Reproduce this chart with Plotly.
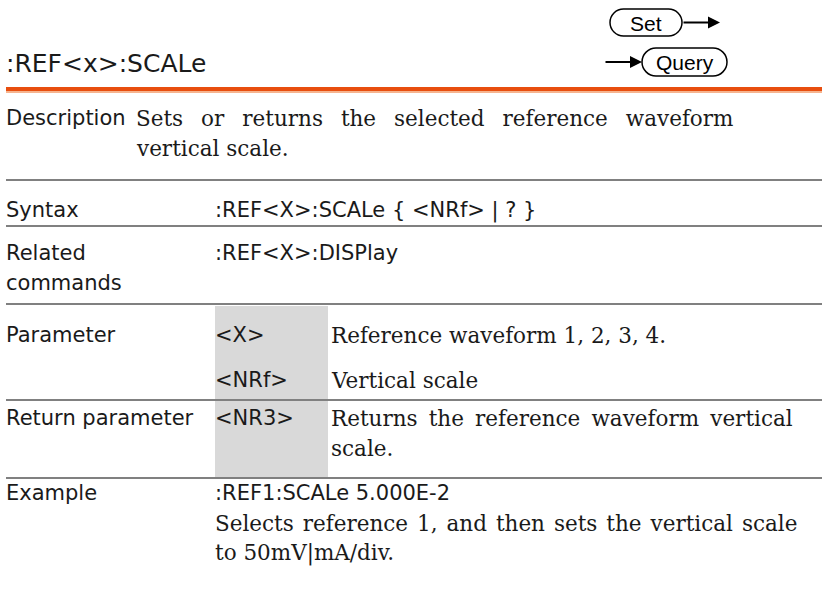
import plotly.graph_objects as go

W, H = 822, 598

title = ":REF<x>:SCALe"
set_label = "Set"
query_label = "Query"

row_labels = [["Description"], ["Syntax"], ["Related", "commands"],
              ["Parameter"], ["Return parameter"], ["Example"]]
row_label_y = [118, 210, 253, 335, 418, 493]

desc_lines = ["Sets or returns the selected reference waveform", "vertical scale."]
syntax_text = ":REF<X>:SCALe { <NRf> | ? }"
related_text = ":REF<X>:DISPlay"
param_names = ["<X>", "<NRf>", "<NR3>"]
param_desc = [["Reference waveform 1, 2, 3, 4."], ["Vertical scale"],
              ["Returns the reference waveform vertical", "scale."]]
param_y = [335, 380, 418]
example_cmd = ":REF1:SCALe 5.000E-2"
example_desc = ["Selects reference 1, and then sets the vertical scale",
                "to 50mV|mA/div."]

divider_y = [180, 226, 304, 400, 478]

SANS = "DejaVu Sans"
SERIF = "DejaVu Serif"
SANS_SIZE = 21
SERIF_SIZE = 21.5
LH = 30

# extra inter-word spacing to imitate justified first lines of wrapped paragraphs
NB, THIN, HAIR = "\u00a0", "\u2009", "\u200a"
JUSTIFY = {
    desc_lines[0]: NB + THIN,
    param_desc[2][0]: THIN,
    example_desc[0]: HAIR,
}

fig = go.Figure()
fig.add_trace(go.Scatter(x=[0, W], y=[0, H], mode="markers",
                         marker=dict(opacity=0), hoverinfo="skip", showlegend=False))

ann = []
shapes = []

def esc(s):
    return s.replace("<", "&lt;").replace(">", "&gt;")

def txt(x, y, s, font=SANS, size=SANS_SIZE):
    extra = JUSTIFY.get(s)
    if extra:
        s = (" " + extra).join(s.split(" "))
    ann.append(dict(x=x, y=y, xref="x", yref="y", text=esc(s), showarrow=False,
                    xanchor="left", yanchor="middle",
                    font=dict(family=font, size=size, color="#1a1a1a")))

def pill(x0, x1, y0, y1):
    r = (y1 - y0) / 2
    k = 0.55 * r
    ym = (y0 + y1) / 2
    p = (f"M {x0 + r},{y0} L {x1 - r},{y0} "
         f"C {x1 - r + k},{y0} {x1},{ym - k} {x1},{ym} "
         f"C {x1},{ym + k} {x1 - r + k},{y1} {x1 - r},{y1} "
         f"L {x0 + r},{y1} "
         f"C {x0 + r - k},{y1} {x0},{ym + k} {x0},{ym} "
         f"C {x0},{ym - k} {x0 + r - k},{y0} {x0 + r},{y0} Z")
    shapes.append(dict(type="path", path=p, xref="x", yref="y",
                       line=dict(color="black", width=1.5), fillcolor="white"))

# title
txt(4, 63, title, SANS, 25)
# orange rule
shapes.append(dict(type="rect", x0=6, x1=W, y0=87, y1=91, xref="x", yref="y",
                   fillcolor="#E84E0F", line=dict(width=0)))
shapes.append(dict(type="rect", x0=6, x1=W, y0=91, y1=93, xref="x", yref="y",
                   fillcolor="#F6B48F", line=dict(width=0)))

# Set / Query icons
pill(610, 682, 9, 36)
pill(642, 727, 48, 76)
ann.append(dict(x=645.5, y=23, xref="x", yref="y", text=set_label, showarrow=False,
                font=dict(family="Liberation Sans", size=21, color="black")))
ann.append(dict(x=684.5, y=62.5, xref="x", yref="y", text=query_label, showarrow=False,
                font=dict(family="Liberation Sans", size=21, color="black")))
# arrows
ann.append(dict(x=720, y=22.5, ax=682, ay=22.5, xref="x", yref="y", axref="x", ayref="y",
                text="", showarrow=True, arrowhead=2, arrowsize=1.2, arrowwidth=2, arrowcolor="black"))
ann.append(dict(x=642, y=62, ax=604, ay=62, xref="x", yref="y", axref="x", ayref="y",
                text="", showarrow=True, arrowhead=2, arrowsize=1.2, arrowwidth=2, arrowcolor="black"))

# gray parameter box
shapes.append(dict(type="rect", x0=215, x1=328, y0=306, y1=478, xref="x", yref="y",
                   fillcolor="#D9D9D9", line=dict(width=0), layer="below"))

# dividers
for yy in divider_y:
    shapes.append(dict(type="line", x0=6, x1=W, y0=yy, y1=yy, xref="x", yref="y",
                       line=dict(color="#808080", width=2)))

# labels
for lines, y0 in zip(row_labels, row_label_y):
    for i, s in enumerate(lines):
        txt(4, y0 + i * LH, s)

for i, s in enumerate(desc_lines):
    txt(134, 118 + i * LH, s, SERIF, SERIF_SIZE)
txt(213, 210, syntax_text)
txt(213, 253, related_text)
for nm, d, y0 in zip(param_names, param_desc, param_y):
    txt(213, y0, nm)
    for i, s in enumerate(d):
        txt(329, y0 + i * LH, s, SERIF, SERIF_SIZE)
txt(213, 493, example_cmd)
for i, s in enumerate(example_desc):
    txt(213, 523 + i * LH, s, SERIF, SERIF_SIZE)

fig.update_layout(width=W, height=H, margin=dict(l=0, r=0, t=0, b=0),
                  paper_bgcolor="white", plot_bgcolor="white",
                  xaxis=dict(range=[0, W], visible=False, fixedrange=True),
                  yaxis=dict(range=[H, 0], visible=False, fixedrange=True),
                  annotations=ann, shapes=shapes, showlegend=False)
fig.write_html("out.html", config={"displayModeBar": False},
               post_script="document.body.style.margin='0';document.body.style.overflow='hidden';")
